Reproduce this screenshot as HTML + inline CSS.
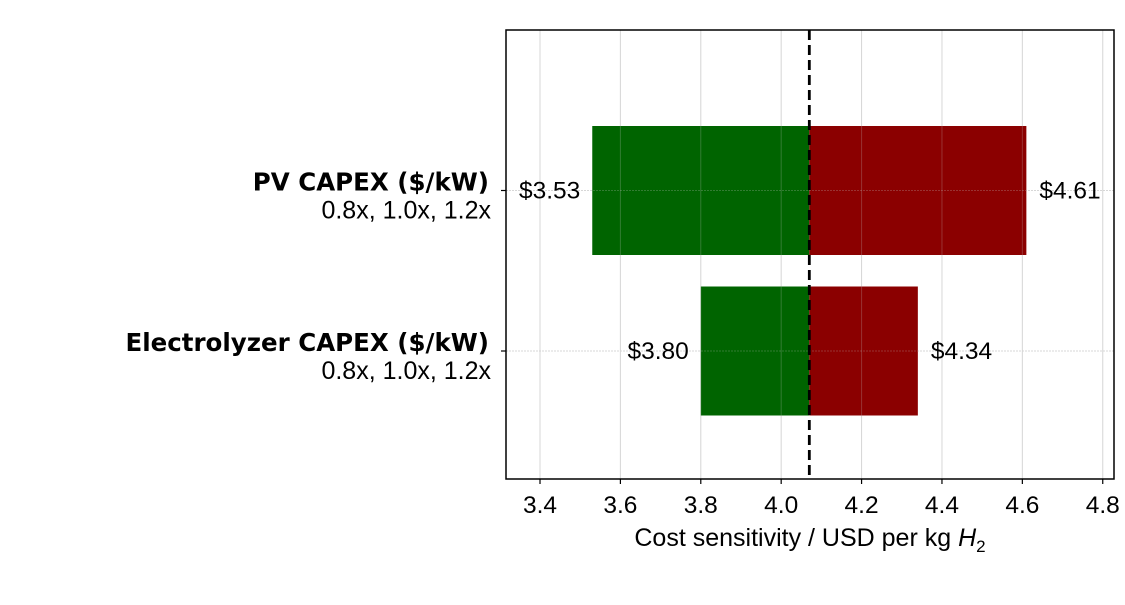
<!DOCTYPE html>
<html><head><meta charset="utf-8"><style>
html,body{margin:0;padding:0;background:#fff;}
svg text{font-family:"Liberation Sans","DejaVu Sans",sans-serif;}
</style></head><body>
<svg id="chart" width="1125" height="600" viewBox="0 0 1125 600" xmlns="http://www.w3.org/2000/svg">
<g id="grid"></g>
<g id="bars"></g>
<g id="gridover"></g>
<g id="labels"></g>
<rect x="506" y="30" width="608" height="449" fill="none" stroke="#000" stroke-width="1.5"/>
<g id="xaxis"></g>
<g id="yaxis"></g>
<text x="810" y="546" font-size="25" text-anchor="middle">Cost sensitivity / USD per kg <tspan font-style="italic">H</tspan><tspan font-size="17" dy="6">2</tspan></text>
</svg>
<script>
const categories = ["PV CAPEX ($/kW)", "Electrolyzer CAPEX ($/kW)"];
const subLabels = ["0.8x, 1.0x, 1.2x", "0.8x, 1.0x, 1.2x"];
const lowValues = [3.53, 3.80];
const highValues = [4.61, 4.34];
const baseValue = 4.07;
const xTicks = [3.4, 3.6, 3.8, 4.0, 4.2, 4.4, 4.6, 4.8];

const NS = "http://www.w3.org/2000/svg";
const X0 = 506, X1 = 1114, Y0 = 30, Y1 = 479;
const vMin = 3.3154, vMax = 4.828;
function xs(v){ return X0 + (v - vMin) / (vMax - vMin) * (X1 - X0); }
const rowCenters0 = 190.5, rowStep = 160.5, barH = 129;
function ys(i){ return rowCenters0 + i * rowStep; }
function mk(tag, attrs, parent){ const e = document.createElementNS(NS, tag); for (const k in attrs) e.setAttribute(k, attrs[k]); parent.appendChild(e); return e; }
const grid = document.getElementById('grid'), gridover = document.getElementById('gridover');
const bars = document.getElementById('bars'), labels = document.getElementById('labels');
const xaxis = document.getElementById('xaxis'), yaxis = document.getElementById('yaxis');

xTicks.forEach(t => {
  const x = xs(t);
  for (const g of [grid, gridover]) {
    const l = mk('line', {x1:x, x2:x, y1:Y0, y2:Y1, stroke: g===grid ? '#dddddd' : 'rgba(200,200,200,0.25)', 'stroke-width':1}, g);
    
    
  }
  const tk = mk('line', {x1:x, x2:x, y1:Y1, y2:Y1+5, stroke:'#000', 'stroke-width':1.2}, xaxis);
  
  
  const tx = mk('text', {x:x, y:Y1+34, 'font-size':24.5, 'text-anchor':'middle'}, xaxis);
  tx.textContent = t.toFixed(1);
  
  
});

categories.forEach((c, i) => {
  const y = ys(i);
  for (const g of [grid, gridover]) {
    const l = mk('line', {x1:X0, x2:X1, y1:y, y2:y, stroke: g===grid ? '#dddddd' : 'rgba(200,200,200,0.25)', 'stroke-width':1, 'stroke-dasharray':'2,1'}, g);
    
    
  }
  const xb = xs(baseValue), xl = xs(lowValues[i]), xh = xs(highValues[i]);
  const g1 = mk('rect', {x:Math.min(xl,xb), y:y-barH/2, width:Math.abs(xb-xl), height:barH, fill:'#006400'}, bars);
  
  
  const r1 = mk('rect', {x:Math.min(xh,xb), y:y-barH/2, width:Math.abs(xh-xb), height:barH, fill:'#8b0000'}, bars);
  
  
  const lt = mk('text', {x:xl-12, y:y+8, 'font-size':24.5, 'text-anchor':'end'}, labels);
  lt.textContent = '$' + lowValues[i].toFixed(2);
  
  
  const ht = mk('text', {x:xh+13, y:y+8, 'font-size':24.5, 'text-anchor':'start'}, labels);
  ht.textContent = '$' + highValues[i].toFixed(2);
  
  
  const tk = mk('line', {x1:X0-5, x2:X0, y1:y, y2:y, stroke:'#000', 'stroke-width':1.2}, yaxis);
  
  
  const t1 = mk('text', {x:489, y:y, 'font-size':24.5, 'font-weight':'bold', 'text-anchor':'end', style:'font-family:"DejaVu Sans",sans-serif'}, yaxis);
  t1.textContent = c;
  
  
  const t2 = mk('text', {x:491, y:y+28, 'font-size':25, 'text-anchor':'end'}, yaxis);
  t2.textContent = subLabels[i];
  
  
});

const bl = mk('line', {x1:xs(baseValue), x2:xs(baseValue), y1:Y0, y2:Y1, stroke:'#000', 'stroke-width':2.8, 'stroke-dasharray':'10,5'}, labels);


</script>
</body></html>
